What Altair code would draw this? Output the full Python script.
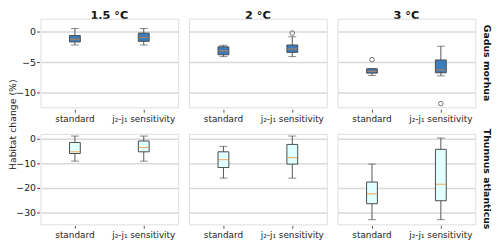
import altair as alt
import pandas as pd

scenarios = ["1.5 °C", "2 °C", "3 °C"]
methods = ["standard", "j₂-j₁ sensitivity"]
species = ["Gadus morhua", "Thunnus atlanticus"]

# [lower whisker, q1, median, q3, upper whisker] per scenario x method
gadus_stats = [
    [-2.2, -1.7, -1.25, -0.65, 0.5],
    [-2.2, -1.6, -0.95, -0.25, 0.5],
    [-4.1, -3.8, -3.15, -2.5, -2.25],
    [-4.1, -3.4, -2.85, -2.2, -0.85],
    [-7.2, -6.8, -6.5, -6.1, -6.05],
    [-7.25, -6.75, -6.3, -4.65, -2.4],
]
gadus_fliers = [[], [], [], [-0.25], [-4.6], [-11.8]]

thunnus_stats = [
    [-9.1, -6.0, -5.3, -1.5, 1.1],
    [-9.1, -5.3, -3.5, -0.9, 1.1],
    [-16.0, -11.7, -8.5, -5.3, -3.1],
    [-16.0, -10.3, -7.7, -2.3, 1.1],
    [-32.9, -26.4, -22.4, -17.6, -10.3],
    [-32.9, -25.2, -18.5, -4.3, 0.3],
]
thunnus_fliers = [[], [], [], [], [], []]

row_domains = [[-12.4, 2.1], [-34.8, 2.0]]
row_ticks = [[-10, -5, 0], [-30, -20, -10, 0]]
box_fills = ["#3b7dbd", "#e0ffff"]


def build_frames(sp, stats, fliers):
    rows, frows = [], []
    i = 0
    for sc in scenarios:
        for m in methods:
            lo, q1, med, q3, hi = stats[i]
            rows.append(dict(species=sp, scenario=sc, method=m, lo=lo, q1=q1,
                             med=med, q3=q3, hi=hi))
            for f in fliers[i]:
                frows.append(dict(species=sp, scenario=sc, method=m, val=f))
            i += 1
    df = pd.DataFrame(rows)
    fdf = pd.DataFrame(frows, columns=["species", "scenario", "method", "val"])
    return df, fdf


def row_chart(idx, sp, stats, fliers, top, h):
    df, fdf = build_frames(sp, stats, fliers)
    df["kind"] = "box"
    fdf["kind"] = "flier"
    data = pd.concat([df, fdf], ignore_index=True)

    x = alt.X("method:N", sort=methods, title=None,
              scale=alt.Scale(paddingInner=0, paddingOuter=0),
              axis=alt.Axis(labelAngle=0, labelFontSize=9, labelColor="#222",
                            tickColor="#555", tickSize=3, labelPadding=2,
                            domain=False, grid=False))
    yscale = alt.Scale(domain=row_domains[idx], nice=False, zero=False)
    yaxis = alt.Axis(values=row_ticks[idx], tickCount=10, labelOverlap=False,
                     title="", labelFontSize=9.5, labelColor="#222",
                     tickColor="#555", tickSize=3, labelPadding=1,
                     domain=False, gridColor="#d9d9d9", gridWidth=1.5)

    base = alt.Chart().transform_filter(alt.datum.kind == "box")
    whisk = base.mark_rule(color="#555", strokeWidth=1).encode(
        x=x, y=alt.Y("lo:Q", scale=yscale, axis=yaxis), y2="hi:Q")
    lo_cap = base.mark_tick(orient="horizontal", size=8, thickness=1,
                            color="#555").encode(x=x, y=alt.Y("lo:Q"))
    hi_cap = base.mark_tick(orient="horizontal", size=8, thickness=1,
                            color="#555").encode(x=x, y=alt.Y("hi:Q"))
    box = base.mark_bar(size=11, fill=box_fills[idx], stroke="#4a4a4a",
                        strokeWidth=1).encode(x=x, y=alt.Y("q1:Q"), y2="q3:Q")
    med = base.mark_tick(orient="horizontal", size=10, thickness=1,
                         color="#ff7f0e").encode(x=x, y=alt.Y("med:Q"))
    fl = alt.Chart().transform_filter(alt.datum.kind == "flier").mark_point(
        shape="circle", size=22, filled=False, color="#333",
        strokeWidth=1).encode(x=x, y=alt.Y("val:Q"))

    layered = alt.layer(whisk, lo_cap, hi_cap, box, med, fl).properties(
        width=140, height=h)

    col_header = alt.Header(labelFontSize=11.5, labelFontWeight="bold",
                            labelColor="#111", labelPadding=-4) if top else \
        alt.Header(labels=False, labelPadding=0)
    row_header = alt.Header(labelAngle=90, labelOrient="right",
                            labelFontSize=9.5, labelFontWeight="bold",
                            labelColor="#111", labelPadding=6)
    return layered.facet(
        data=data,
        column=alt.Column("scenario:N", sort=scenarios, title=None,
                          header=col_header),
        row=alt.Row("species:N", title=None, header=row_header),
        spacing=9,
    )


top = row_chart(0, species[0], gadus_stats, gadus_fliers, True, 90)
bottom = row_chart(1, species[1], thunnus_stats, thunnus_fliers, False, 92)

chart = alt.vconcat(top, bottom, spacing=5).properties(
    padding=0,
    title=alt.TitleParams("Habitat change (%)", orient="left", anchor="middle",
                          fontSize=9.5, fontWeight="normal", color="#222",
                          offset=-2),
).configure_view(
    stroke="#666", strokeWidth=1
).configure(
    font="DejaVu Sans"
)

chart.save("out.html", embed_options={"renderer": "svg", "actions": False})
